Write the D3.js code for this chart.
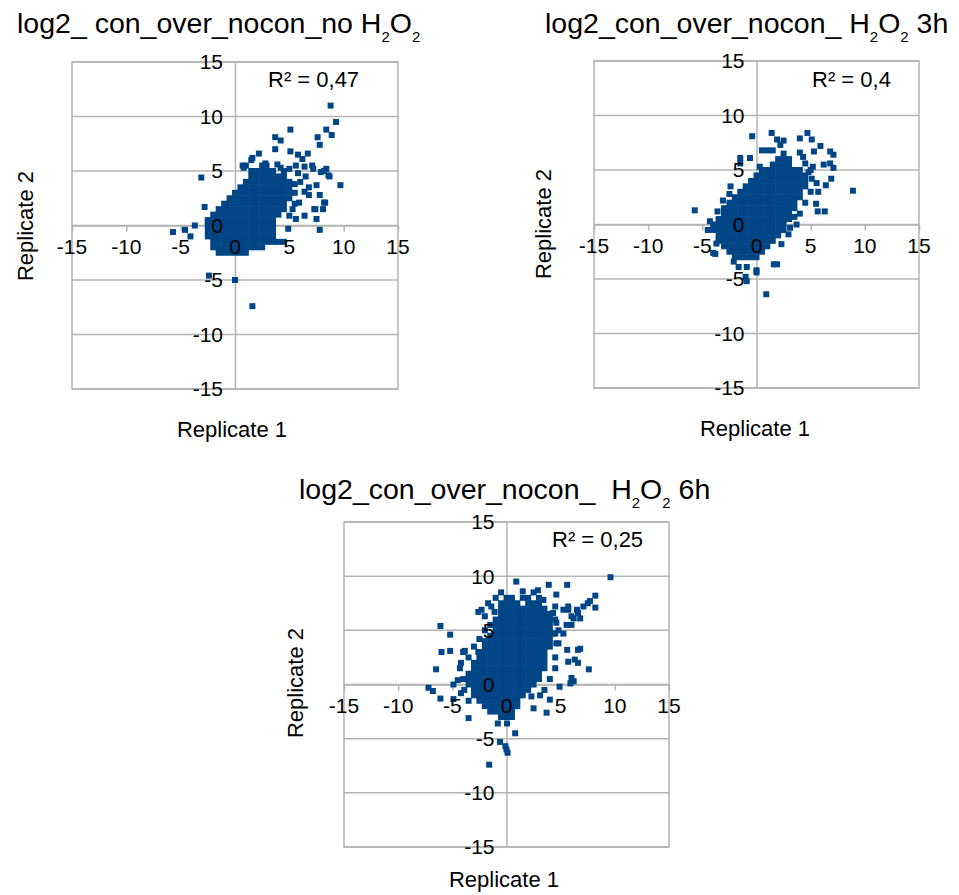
<!DOCTYPE html>
<html><head><meta charset="utf-8">
<script src="https://cdn.jsdelivr.net/npm/d3@7"></script>
<style>
body{margin:0;background:#fff}
text{font-family:"Liberation Sans",Arial,sans-serif;fill:#000;white-space:pre}
</style>
</head><body>
<svg id="c" width="959" height="895"></svg>
<script>
// ---------- data ----------
const axisTicks = [-15,-10,-5,0,5,10,15];
const titleLead = ["log2_ con_over_nocon_no ", "log2_con_over_nocon_ ", "log2_con_over_nocon_  "];
const titleTail = ["", " 3h", " 6h"];
const r2Labels = ["R\u00B2 = 0,47", "R\u00B2 = 0,4", "R\u00B2 = 0,25"];
const xAxisTitle = "Replicate 1";
const yAxisTitle = "Replicate 2";

// dense cores: [y, [x values]]
const core1 = [
 [5.5,[1,2.5]],
 [5,[1.5,2,2.5,3,3.5,4.5]],
 [4.5,[1.5,2,2.5,3,3.5,4,4.5]],
 [4,[1,1.5,2,2.5,3,3.5,4,4.5,5]],
 [3.5,[0.5,1,1.5,2,2.5,3,3.5,4,4.5,5]],
 [3,[0,0.5,1,1.5,2,2.5,3,3.5,4,4.5,5,5.5]],
 [2.5,[-0.5,0,0.5,1,1.5,2,2.5,3,3.5,4,4.5,5]],
 [2,[-1,-0.5,0,0.5,1,1.5,2,2.5,3,3.5,4,4.5,5.5]],
 [1.5,[-1.5,-1,-0.5,0,0.5,1,1.5,2,2.5,3,3.5,4,4.5]],
 [1,[-2,-1.5,-1,-0.5,0,0.5,1,1.5,2,2.5,3,3.5,4]],
 [0.5,[-2.5,-2,-1.5,-1,-0.5,0,0.5,1,1.5,2,2.5,3,3.5]],
 [0,[-2.5,-2,-1.5,-1,-0.5,0,0.5,1,1.5,2,2.5,3,3.5]],
 [-0.5,[-2.5,-2,-1.5,-1,-0.5,0,0.5,1,1.5,2,2.5,3,3.5]],
 [-1,[-2.5,-2,-1.5,-1,-0.5,0,0.5,1,1.5,2,2.5,3,3.5]],
 [-1.5,[-2,-1.5,-1,-0.5,0,0.5,1,1.5,2,2.5,3,3.5,4,4.5]],
 [-2,[-2,-1.5,-1,-0.5,0,0.5,1,1.5,2,2.5]],
 [-2.5,[-1.5,-1,-0.5,0,0.5,1]]
];
const outliers1 = [[8.8,11],[9.3,9.5],[5.1,8.8],[8.4,8.8],[8.9,8.3],[3.7,8.1],[4.2,7.8],[7.6,8.1],[7.8,7.4],[3.7,7.0],[5.1,6.8],[5.8,6.5],[6.2,6.1],[6.7,6.6],[2.2,6.6],[1.6,6.2],[0.8,5.3],[2.8,5.7],[-3.1,4.4],[7.2,5.2],[8.2,5.0],[8.7,4.5],[9.7,3.7],[-2.8,1.7],[-5.7,-0.6],[-4.6,-0.4],[-4.1,-1.0],[-3.7,0],[-2.4,-4.6],[0,-5.0],[1.6,-7.4],[7.8,-0.4],[7.5,0.6],[8.3,2.1],[7.4,1.5],[0.7,5.5],[1.5,6.0],[2.9,5.5],[5.0,5.2],[5.6,5.5],[6.4,5.4],[7.1,5.5],[7.9,4.9],[8.4,5.2],[7.5,3.7],[6.4,3.1],[6.8,2.8],[7.8,2.8],[8.2,2.1],[8.1,1.5],[7.3,1.5],[5.9,2.1],[5.3,1.5],[5.0,0.9],[5.6,0.6],[6.4,0.9],[4.9,-0.3],[-2.5,0.3],[6,4],[6.5,4.5],[5.5,3.8],[6.8,3.5],[5.8,4.8],[8.6,4.6],[4.2,5.3],[3.9,5.6]];

const core2 = [
 [5,[0.5,1,1.5,2,2.5,3,3.5,4]],
 [4.5,[0,0.5,1,1.5,2,2.5,3,3.5,4,4.5]],
 [4,[-0.5,0,0.5,1,1.5,2,2.5,3,3.5,4,4.5]],
 [3.5,[-1,-0.5,0,0.5,1,1.5,2,2.5,3,3.5,4,4.5]],
 [3,[-1.5,-1,-0.5,0,0.5,1,1.5,2,2.5,3,3.5,4]],
 [2.5,[-2,-1.5,-1,-0.5,0,0.5,1,1.5,2,2.5,3,3.5,4]],
 [2,[-2.5,-2,-1.5,-1,-0.5,0,0.5,1,1.5,2,2.5,3,3.5]],
 [1.5,[-3,-2.5,-2,-1.5,-1,-0.5,0,0.5,1,1.5,2,2.5,3,3.5]],
 [1,[-3,-2.5,-2,-1.5,-1,-0.5,0,0.5,1,1.5,2,2.5,3]],
 [0.5,[-3.5,-3,-2.5,-2,-1.5,-1,-0.5,0,0.5,1,1.5,2,2.5,3]],
 [0,[-4,-3.5,-3,-2.5,-2,-1.5,-1,-0.5,0,0.5,1,1.5,2,2.5]],
 [-0.5,[-4,-3.5,-3,-2.5,-2,-1.5,-1,-0.5,0,0.5,1,1.5,2,2.5]],
 [-1,[-3.5,-3,-2.5,-2,-1.5,-1,-0.5,0,0.5,1,1.5,2]],
 [-1.5,[-3.5,-3,-2.5,-2,-1.5,-1,-0.5,0,0.5,1,1.5]],
 [-2,[-3,-2.5,-2,-1.5,-1,-0.5,0,0.5,1]],
 [-2.5,[-2.5,-2,-1.5,-1,-0.5,0,0.5]],
 [-3,[-2,-1.5,-1,-0.5,0]]
];
const outliers2 = [[-0.4,8.1],[1.4,8.4],[1.9,7.8],[2.5,7.7],[2.2,7.3],[0.5,6.8],[1,6.8],[1.5,6.8],[2.5,6.5],[2,6],[2.5,6],[3,6],[1.5,5.5],[2,5.5],[2.5,5.5],[3,5.5],[4.0,7.9],[4.7,8.4],[5.1,7.8],[5.9,7.2],[4.0,6.6],[5.3,6.7],[6.8,6.7],[7.1,6.4],[4.3,6.2],[4.5,5.6],[5.2,5.3],[6.2,5.5],[6.8,5.6],[7.1,5.2],[6.9,4.2],[6.4,3.6],[5.55,3.8],[5.7,3.0],[5.1,4.2],[5.5,1.9],[5.65,1.2],[6.3,1.2],[3.5,0.7],[3.7,0],[2.95,-0.9],[2.3,-1.8],[1.6,-3.65],[1.9,-3.65],[0.9,-6.4],[0,-4.2],[0,-4.4],[-1.0,-4.8],[-0.9,-3.9],[-2.1,-3.4],[-1.65,-3.9],[-3.8,-2.7],[-4.0,-2.6],[-3.7,-1.75],[-5.7,1.3],[-2.4,3.5],[-0.6,6.1],[-1.5,6.1],[-1.5,5.6],[8.9,3.1],[-0.9,-5.2],[4.8,4.8],[5,5],[-4.5,-0.5],[-4.3,0.3],[-3.6,1.2],[-3.1,2.2],[-2.5,2.8],[3.1,-0.3],[4,1],[4.5,2],[5,3],[0.3,5.3]];

const core3 = [
 [8,[0,0.5,1.5,2]],
 [7.5,[-0.5,0,0.5,1,2,2.5,3]],
 [7,[-0.5,0,0.5,1,1.5,2,2.5,3,3.5]],
 [6.5,[-0.5,0,0.5,1,1.5,2,2.5,3,3.5,4]],
 [6,[-1,-0.5,0,0.5,1,1.5,2,2.5,3,3.5,4]],
 [5.5,[-1,-0.5,0,0.5,1,1.5,2,2.5,3,3.5,4]],
 [5,[-1,-0.5,0,0.5,1,1.5,2,2.5,3,3.5,4]],
 [4.5,[-1.5,-1,-0.5,0,0.5,1,1.5,2,2.5,3,3.5,4]],
 [4,[-2,-1.5,-1,-0.5,0,0.5,1,1.5,2,2.5,3,3.5,4]],
 [3.5,[-2,-1.5,-1,-0.5,0,0.5,1,1.5,2,2.5,3,3.5,4]],
 [3,[-2.5,-2,-1.5,-1,-0.5,0,0.5,1,1.5,2,2.5,3,3.5]],
 [2.5,[-2.5,-2,-1.5,-1,-0.5,0,0.5,1,1.5,2,2.5,3,3.5]],
 [2,[-3,-2.5,-2,-1.5,-1,-0.5,0,0.5,1,1.5,2,2.5,3,3.5]],
 [1.5,[-3,-2.5,-2,-1.5,-1,-0.5,0,0.5,1,1.5,2,2.5,3,3.5]],
 [1,[-3.5,-3,-2.5,-2,-1.5,-1,-0.5,0,0.5,1,1.5,2,2.5,3]],
 [0.5,[-3.5,-3,-2.5,-2,-1.5,-1,-0.5,0,0.5,1,1.5,2,2.5,3]],
 [0,[-3.5,-3,-2.5,-2,-1.5,-1,-0.5,0,0.5,1,1.5,2,2.5]],
 [-0.5,[-3,-2.5,-2,-1.5,-1,-0.5,0,0.5,1,1.5,2]],
 [-1,[-3,-2.5,-2,-1.5,-1,-0.5,0,0.5,1,1.5]],
 [-1.5,[-2.5,-2,-1.5,-1,-0.5,0,0.5,1]],
 [-2,[-2,-1.5,-1,-0.5,0,0.5,1]],
 [-2.5,[-1.5,-1,-0.5,0,0.5]],
 [-3,[-0.5,0,0.5]]
];
const outliers3 = [[9.6,9.9],[8.2,8.2],[8.2,7.1],[7.5,7.5],[7.1,7.2],[7.7,7.7],[6.6,6.6],[6.2,6.1],[5.7,7.2],[5.6,9.2],[3.9,9.2],[2.9,8.7],[4.6,8.3],[0.9,9.5],[6.0,5.5],[5.25,4.7],[4.5,4.7],[4.8,3.8],[5.6,3.2],[6.6,3.2],[5.7,2.1],[6.6,2.0],[7.6,1.4],[6.0,0.6],[5.9,0.1],[3.7,-2.6],[4.0,-1.4],[2.3,-1.1],[3.1,-1.0],[-6.1,5.4],[-5.2,4.6],[-6.0,3.0],[-5.2,3.1],[-4.0,3.0],[-3.85,3.1],[-6.5,1.4],[-7.2,-0.3],[-6.8,-0.6],[-6.1,-1.3],[-4.9,-1.35],[-3.5,-3.1],[-2.6,3.0],[0.8,-4.5],[-0.6,-5.3],[-0.1,-5.7],[0.1,-6.3],[0,-6.0],[-1.6,-7.4],[-0.8,-3.6],[0.05,-3.6],[-2.6,6.7],[-2.3,6.9],[-1.7,7.5],[-1.4,7.2],[-1.1,6.7],[-2.0,6.3],[-4.9,0],[-4.5,0.4],[5.25,6.9],[5.7,6.9],[6.5,6.9],[6.8,6.1],[6.0,6.3],[4.3,6.6],[4.6,5.7],[5.55,5.5],[4.3,4.7],[4.6,3.8],[6.8,3.3],[6.3,2.3],[6.2,0.3],[4.9,-0.2],[1.5,8.6],[3.4,7.8],[4.5,7.2],[-4.2,-0.8],[-4.3,1.5],[2.5,-2.2],[-4,0.5],[-3.9,-0.5],[-3.5,-1.5],[-4.2,2],[-3.5,2.5],[-3,3.5],[-2.5,4.2],[-2,5],[-1.5,5.5],[4.5,2.5],[4.5,1.5],[4,0.5],[3.5,-0.5],[4.5,6],[4.8,5],[3,8],[2.5,8.5],[-1,8],[-0.5,8.5]];

const cores = [core1, core2, core3];
const outliers = [outliers1, outliers2, outliers3];

// ---------- layout ----------
const layout = [
 {L:72,R:398,T:62,B:389, tx:17, ty:33, r2x:268, r2y:87, xtX:232, xtY:437, ytX:33, ytY:226},
 {L:594,R:919,T:61,B:388, tx:545, ty:33, r2x:812, r2y:87, xtX:755, xtY:436, ytX:551, ytY:224},
 {L:344,R:669,T:522,B:847, tx:299, ty:499, r2x:552, r2y:547, xtX:504, xtY:887, ytX:303, ytY:683}
];
const gridColor = "#b3b3b3";
const pointColor = "#004586";
const sq = 6;

const svg = d3.select("#c");
svg.append("rect").attr("width",959).attr("height",895).attr("fill","#fff");

layout.forEach((lo, i) => {
  const g = svg.append("g");
  const x = d3.scaleLinear().domain([-15,15]).range([lo.L, lo.R]);
  const y = d3.scaleLinear().domain([-15,15]).range([lo.B, lo.T]);

  // horizontal gridlines
  g.selectAll("line.grid").data(axisTicks).join("line")
    .attr("x1", lo.L).attr("x2", lo.R)
    .attr("y1", d => y(d)).attr("y2", d => y(d))
    .attr("stroke", gridColor).attr("stroke-width", 1.5);
  // frame
  g.append("rect").attr("x", lo.L).attr("y", lo.T)
    .attr("width", lo.R - lo.L).attr("height", lo.B - lo.T)
    .attr("fill", "none").attr("stroke", gridColor).attr("stroke-width", 1.5);

  // axes through zero
  const xAxis = g.append("g").attr("transform", `translate(0,${y(0)})`)
    .call(d3.axisBottom(x).tickValues(axisTicks).tickSize(6).tickSizeOuter(0).tickPadding(7));
  const yAxis = g.append("g").attr("transform", `translate(${x(0)},0)`)
    .call(d3.axisLeft(y).tickValues(axisTicks).tickSize(0).tickSizeOuter(0).tickPadding(12));
  [xAxis, yAxis].forEach(a => {
    a.select(".domain").attr("stroke", gridColor).attr("stroke-width", 1.5);
    a.selectAll(".tick line").attr("stroke", gridColor).attr("stroke-width", 1.5);
    a.selectAll(".tick text").remove();
  });

  // points
  const pts = cores[i].flatMap(([yy, xs]) => xs.map(xx => [xx, yy])).concat(outliers[i]);
  g.append("g").selectAll("rect").data(pts).join("rect")
    .attr("x", d => x(d[0]) - sq/2).attr("y", d => y(d[1]) - sq/2)
    .attr("width", sq).attr("height", sq).attr("fill", pointColor);

  // tick labels (on top of points)
  const lab = g.append("g").style("font-size", "21px");
  lab.selectAll("text.xl").data(axisTicks).join("text")
    .attr("x", d => x(d)).attr("y", y(0) + 28)
    .attr("text-anchor", "middle").text(d => d);
  lab.selectAll("text.yl").data(axisTicks).join("text")
    .attr("x", x(0) - 12).attr("y", d => y(d)).attr("dy", "0.35em")
    .attr("text-anchor", "end").text(d => d);

  // R² label
  g.append("text").attr("x", lo.r2x).attr("y", lo.r2y)
    .style("font-size", "22px").text(r2Labels[i]);

  // axis titles
  g.append("text").attr("x", lo.xtX).attr("y", lo.xtY)
    .attr("text-anchor", "middle").style("font-size", "22px").text(xAxisTitle);
  g.append("text").attr("transform", `translate(${lo.ytX},${lo.ytY}) rotate(-90)`)
    .attr("text-anchor", "middle").style("font-size", "22px").text(yAxisTitle);

  // title with subscripts
  const t = g.append("text").attr("x", lo.tx).attr("y", lo.ty).style("font-size", "28.5px");
  t.append("tspan").text(titleLead[i] + "H");
  t.append("tspan").attr("dy", 9).style("font-size", "15px").text("2");
  t.append("tspan").attr("dy", -9).text("O");
  t.append("tspan").attr("dy", 9).style("font-size", "15px").text("2");
  t.append("tspan").attr("dy", -9).text(titleTail[i]);
});
</script>
</body></html>
